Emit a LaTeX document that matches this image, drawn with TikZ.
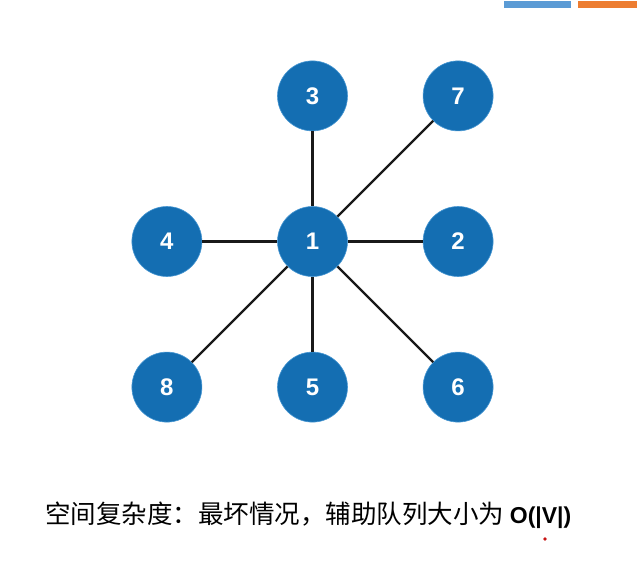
\documentclass[tikz,border=0pt]{standalone}
\usepackage{fontspec}
\usepackage{xcolor}
\newfontfamily\cjk{Noto Sans CJK SC}
\newfontfamily\numfont{Liberation Sans}
\definecolor{nodeblue}{RGB}{20,110,178}
\definecolor{rimblue}{RGB}{70,150,210}
\definecolor{barblue}{RGB}{91,155,213}
\definecolor{barorange}{RGB}{237,125,49}
\definecolor{inkred}{RGB}{200,20,20}
\usetikzlibrary{positioning}

\begin{document}
\begin{tikzpicture}[
  x=1pt, y=-1pt,
  vert/.style={circle, fill=nodeblue, draw=rimblue, line width=0.6pt, minimum size=70pt, inner sep=0pt,
               text=white, font=\numfont\bfseries\fontsize{24}{24}\selectfont},
  edge/.style={line width=2.2pt, black!90},
  caption/.style={anchor=west, inner sep=0pt, font=\cjk\fontsize{25.5}{30}\selectfont},
  node distance=75pt and 75pt]
\useasboundingbox (0,0) rectangle (637,564);
% tabs at the top right
\fill[barblue] (504,1) rectangle (571,8);
\fill[barorange] (578,1) rectangle (637,8);
% vertices
\node[vert] (n1) at (312.5,241.5) {1};
\node[vert, above=of n1] (n3) {3};
\node[vert, below=of n1] (n5) {5};
\node[vert, left=of n1] (n4) {4};
\node[vert, right=of n1] (n2) {2};
\node[vert, above=of n2] (n7) {7};
\node[vert, below=of n2] (n6) {6};
\node[vert, below=of n4] (n8) {8};
% edges
\draw[edge] (n1) -- (n3);
\draw[edge] (n1) -- (n7);
\draw[edge] (n1) -- (n4);
\draw[edge] (n1) -- (n2);
\draw[edge] (n1) -- (n8);
\draw[edge] (n1) -- (n5);
\draw[edge] (n1) -- (n6);
% caption
\node[caption] (cap) at (45,515) {空间复杂度：最坏情况，辅助队列大小为 {\numfont\bfseries\fontsize{23}{30}\selectfont O(|V|)}};
\fill[inkred] (545,539) circle (1.8pt);
\end{tikzpicture}
\end{document}
